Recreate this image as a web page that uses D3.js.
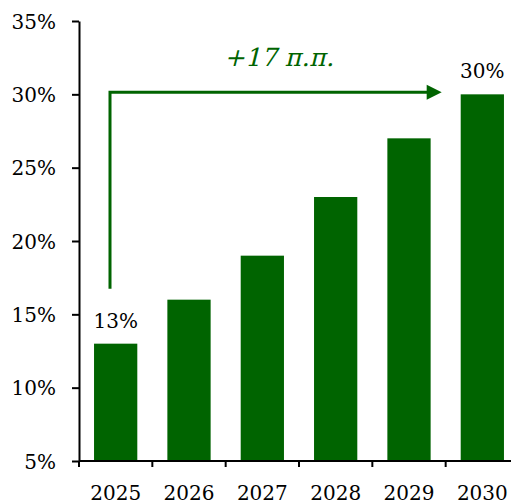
<!DOCTYPE html>
<html><head><meta charset="utf-8">
<script src="https://cdn.jsdelivr.net/npm/d3@7"></script>
<style>body{margin:0;background:#fff}svg{display:block}text{font-family:"DejaVu Serif",serif;}</style>
</head><body><svg id="c" width="511" height="504"></svg>
<script>
const years = ["2025","2026","2027","2028","2029","2030"];
const values = [13,16,19,23,27,30];
const yTicks = [5,10,15,20,25,30,35];
const annotation = "+17 п.п.";
const labeledYears = ["2025","2030"];

const svg = d3.select("#c");
const green = "#006400";
const F = "'DejaVu Serif', serif";
const x = d3.scaleBand().domain(years).range([79,519]).paddingInner(0.41).paddingOuter(0.205);
const xb = d3.scaleBand().domain(years).range([79,519]);
const y = d3.scaleLinear().domain([5,35]).range([461,21]);

svg.selectAll("rect.bar").data(values).enter().append("rect")
  .attr("x",(d,i)=>x(years[i])).attr("width",x.bandwidth())
  .attr("y",d=>y(d)).attr("height",d=>y(5)-y(d)).attr("fill",green);

// y axis
const ya = svg.append("g").attr("transform","translate(79,0)")
  .call(d3.axisLeft(y).tickValues(yTicks).tickFormat(d=>d+"%").tickSize(7).tickSizeOuter(0));
ya.attr("font-family",F);
ya.select(".domain").attr("stroke","#000").attr("stroke-width",2);
ya.selectAll(".tick line").attr("stroke","#000").attr("stroke-width",2);
ya.selectAll(".tick text").attr("font-size",20).attr("x",-23).attr("dy","0.36em").attr("fill","#000");

// x axis
svg.append("line").attr("x1",79).attr("x2",511).attr("y1",461).attr("y2",461).attr("stroke","#000").attr("stroke-width",2);
svg.selectAll("line.xt").data(years).enter().append("line")
  .attr("x1",d=>xb(d)).attr("x2",d=>xb(d)).attr("y1",461).attr("y2",467)
  .attr("stroke","#000").attr("stroke-width",2);
svg.selectAll("text.xl").data(years).enter().append("text")
  .attr("x",d=>xb(d)+xb.bandwidth()/2).attr("y",500).attr("text-anchor","middle")
  .attr("font-size",20).text(d=>d);

// value labels
labeledYears.forEach(yr=>{
  const v = values[years.indexOf(yr)];
  svg.append("text").attr("x",x(yr)+x.bandwidth()/2).attr("y",y(v)-16)
    .attr("text-anchor","middle").attr("font-size",20).text(v+"%");
});

// arrow
const ax = 110;
const ay = y(values[values.length-1]) - 2;
svg.append("path").attr("d",`M${ax},${y(values[0])-55}V${ay}H${x(years[5])-25}`)
  .attr("fill","none").attr("stroke",green).attr("stroke-width",3);
const tipX = x(years[5])-19;
svg.append("path").attr("d",`M${tipX},${ay}l-15,-7.5v15z`).attr("fill",green);
svg.append("text").attr("transform","translate(279,66) skewX(-14)").attr("text-anchor","middle")
  .attr("font-size",25).attr("fill",green).text(annotation);
</script></body></html>
